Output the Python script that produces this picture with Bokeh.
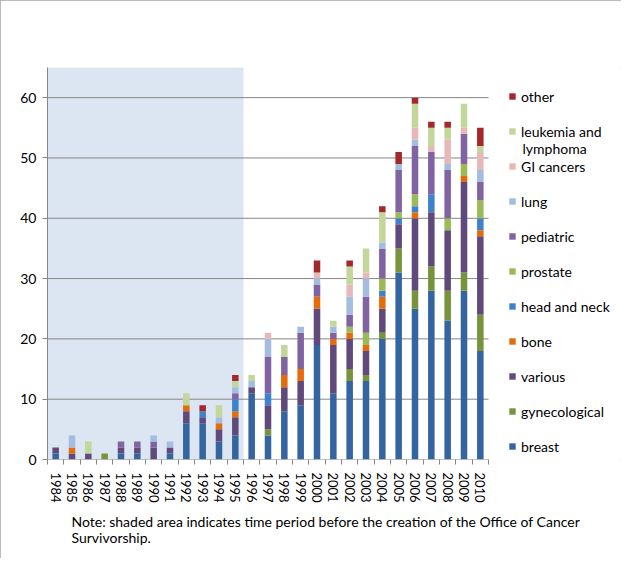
from bokeh.plotting import figure
from bokeh.models import (ColumnDataSource, FixedTicker, Legend, LegendItem,
                          BoxAnnotation, Label, Title)
from bokeh.embed import file_html
from bokeh.resources import INLINE

years = [str(y) for y in range(1984, 2011)]
breast        = [1,0,0,0,1,1,0,1,6,6,3,4,11,4,8,9,19,11,13,13,20,31,25,28,23,28,18]
gynecological = [0,0,0,1,0,0,0,0,0,0,0,0,0,1,0,0,0,0,2,1,1,4,3,4,5,3,6]
various       = [1,1,1,0,1,1,2,1,2,1,2,3,1,4,4,4,6,8,5,4,4,4,12,9,10,15,13]
bone          = [0,1,0,0,0,0,0,0,1,0,1,1,0,0,2,2,2,1,1,1,2,0,1,0,0,1,1]
head_neck     = [0,0,0,0,0,0,0,0,0,1,0,2,0,2,0,0,0,0,0,0,1,1,1,3,0,0,2]
prostate      = [0,0,0,0,0,0,0,0,0,0,0,0,0,0,0,0,0,0,1,2,2,1,2,0,2,2,3]
pediatric     = [0,0,0,0,1,1,1,0,0,0,0,1,0,6,3,6,2,1,2,6,5,7,8,7,8,5,3]
lung          = [0,2,0,0,0,0,1,1,0,0,1,1,1,3,0,1,1,1,3,3,1,1,1,0,1,0,2]
gi_cancers    = [0,0,0,0,0,0,0,0,0,0,0,0,0,1,0,0,1,0,2,1,0,0,2,1,4,1,3]
leukemia      = [0,0,2,0,0,0,0,0,2,0,2,1,1,0,2,0,0,1,3,4,5,0,4,3,2,4,1]
other         = [0,0,0,0,0,0,0,0,0,1,0,1,0,0,0,0,2,0,1,0,1,2,1,1,1,0,3]

series_keys = ["breast", "gynecological", "various", "bone", "head_neck", "prostate",
               "pediatric", "lung", "gi_cancers", "leukemia", "other"]
series_labels = ["breast", "gynecological", "various", "bone", "head and neck", "prostate",
                 "pediatric", "lung", "GI cancers", "leukemia and", "other"]
label_second_line = "lymphoma"
colors = ["#3465A1", "#77933C", "#604A7B", "#E46C0A", "#3F82CA", "#9BBB59",
          "#8064A2", "#A3BCE0", "#E6B9B8", "#C3D69B", "#A3282B"]
shaded_years = 12  # 1984-1995
y_ticks = [0, 10, 20, 30, 40, 50, 60]
note_text = ("Note: shaded area indicates time period before the creation of the Office of Cancer\n"
             "Survivorship.")

FONT = "Lato"
n = len(years)
xs = [i + 0.5 for i in range(n)]
source = ColumnDataSource(dict(x=xs, breast=breast, gynecological=gynecological,
                               various=various, bone=bone, head_neck=head_neck,
                               prostate=prostate, pediatric=pediatric, lung=lung,
                               gi_cancers=gi_cancers, leukemia=leukemia, other=other))

W, H = 621, 558
left, top, bottom = 47, 67, 99
frame_w = W - left
cat_px = 441.0 / n            # pixel width of one year slot
x_end = frame_w / cat_px       # room on the right for the legend

p = figure(width=W, height=H, x_range=(0, x_end), y_range=(0, 65),
           output_backend="svg", toolbar_location=None,
           min_border_left=left, min_border_top=top, min_border_bottom=bottom,
           min_border_right=0)
p.styles = {"outline": "1px solid #A6A6A6", "outline-offset": "-1px"}
p.outline_line_color = None
p.background_fill_color = "white"
p.border_fill_color = "white"

shade = BoxAnnotation(left=0, right=shaded_years, bottom=0, top=65,
                      fill_color="#DCE6F2", fill_alpha=1.0, line_color=None,
                      level="image")
p.add_layout(shade)

# horizontal gridlines only across the category area
grid_y = y_ticks[1:]
p.segment(x0=[0] * len(grid_y), x1=[n] * len(grid_y), y0=grid_y, y1=grid_y,
          line_color="#868686", line_width=1)

renderers = p.vbar_stack(series_keys, x="x", width=0.4, source=source,
                         fill_color=colors, line_color=None)

# baseline of the x axis
p.segment(x0=[0], x1=[n], y0=[0], y1=[0], line_color="#868686", line_width=1)

# axes
p.xaxis.ticker = FixedTicker(ticks=xs, minor_ticks=list(range(n + 1)))
p.xaxis.major_label_overrides = {x: y for x, y in zip(xs, years)}
p.xaxis.major_label_orientation = "vertical"
p.xaxis.major_tick_out = 0
p.xaxis.major_tick_in = 0
p.xaxis.minor_tick_out = 5
p.xaxis.minor_tick_in = 0
p.xaxis.minor_tick_line_color = "#868686"
p.xaxis.axis_line_color = None
p.xaxis.major_label_text_font = FONT
p.xaxis.major_label_text_font_size = "13px"
p.xaxis.major_label_text_color = "#000000"
p.xaxis.major_label_standoff = 8

p.yaxis.ticker = FixedTicker(ticks=y_ticks)
p.yaxis.major_tick_out = 5
p.yaxis.major_tick_in = 0
p.yaxis.minor_tick_line_color = None
p.yaxis.axis_line_color = "#868686"
p.yaxis.major_tick_line_color = "#868686"
p.yaxis.major_label_text_font = FONT
p.yaxis.major_label_text_font_size = "14px"
p.yaxis.major_label_text_color = "#000000"
p.yaxis.major_label_standoff = 6

p.xgrid.grid_line_color = None
p.ygrid.grid_line_color = None

items = [LegendItem(label=lab, renderers=[r])
         for lab, r in zip(series_labels[::-1], renderers[::-1])]
legend = Legend(items=items, location=(461, 3), border_line_color=None,
                background_fill_alpha=0, padding=5, margin=0,
                spacing=15, label_height=20, glyph_width=8, glyph_height=8,
                label_standoff=5, label_text_font=FONT,
                label_text_font_size="14px", label_text_color="#000000")
p.add_layout(legend)

p.add_layout(Label(x=n + 34.0 / cat_px, y=51.6, text=label_second_line,
                   text_font=FONT, text_font_size="14px", text_baseline="middle",
                   text_color="#000000"))

note = Title(text=note_text, align="left", offset=24, standoff=12,
             text_font=FONT, text_font_size="14px", text_font_style="normal",
             text_color="#000000", text_line_height=0.95)
p.add_layout(note, "below")

open("out.html", "w").write(file_html(p, INLINE))
